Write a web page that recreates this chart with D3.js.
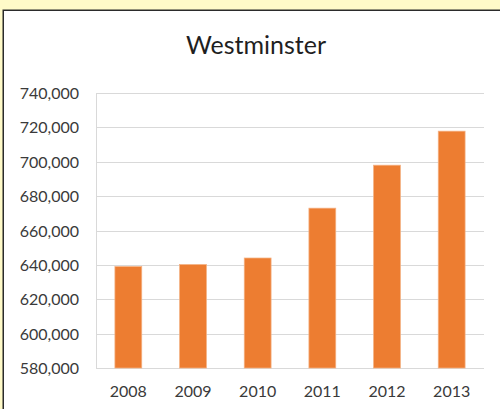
<!DOCTYPE html>
<html>
<head>
<meta charset="utf-8">
<script src="https://cdn.jsdelivr.net/npm/d3@7"></script>
<style>
  html, body { margin: 0; padding: 0; background: #fffac8; }
  svg { display: block; }
  .tick text { font-family: Lato, "Open Sans", sans-serif; font-size: 16px; fill: #3a3a3a; }
</style>
</head>
<body>
<svg width="500" height="409"></svg>
<script>
// Chart data.
var years = ["2008", "2009", "2010", "2011", "2012", "2013"];
var population = [639000, 640200, 644000, 673000, 698000, 717800];
var yTicks = [580000, 600000, 620000, 640000, 660000, 680000, 700000, 720000, 740000];
var title = "Westminster";

var width = 500, height = 409;
var margin = { top: 93, right: 16, bottom: 41, left: 96 };

var svg = d3.select("svg");

// Yellow page behind, white chart box with a dark frame.
svg.append("rect")
  .attr("width", width).attr("height", height)
  .attr("fill", "#fffac8");
svg.append("rect")
  .attr("x", 3.25).attr("y", 10.25)
  .attr("width", width).attr("height", height)
  .attr("fill", "#ffffff")
  .attr("stroke", "#2b2b2b")
  .attr("stroke-width", 1.5);

var x = d3.scaleBand()
  .domain(years)
  .range([margin.left, width - margin.right])
  .paddingInner(0.585)
  .paddingOuter(0.2925);

var y = d3.scaleLinear()
  .domain([580000, 740000])
  .range([height - margin.bottom, margin.top]);

// Gridlines.
svg.append("g").selectAll("line")
  .data(yTicks)
  .enter().append("line")
    .attr("x1", margin.left)
    .attr("x2", width - margin.right)
    .attr("y1", function(d) { return Math.round(y(d)) + 0.5; })
    .attr("y2", function(d) { return Math.round(y(d)) + 0.5; })
    .attr("stroke", "#d9d9d9")
    .attr("stroke-width", 1);

// Left axis line.
svg.append("line")
  .attr("x1", margin.left + 0.5).attr("x2", margin.left + 0.5)
  .attr("y1", y(740000)).attr("y2", y(580000))
  .attr("stroke", "#d9d9d9");

// Bars.
svg.append("g").selectAll("rect")
  .data(population)
  .enter().append("rect")
    .attr("x", function(d, i) { return x(years[i]); })
    .attr("width", x.bandwidth())
    .attr("y", function(d) { return y(d); })
    .attr("height", function(d) { return y(580000) - y(d); })
    .attr("fill", "#ed7d31")
    .attr("stroke", "#f4b183")
    .attr("stroke-width", 0.75);

// Axes, labels only.
var yAxis = svg.append("g")
  .attr("transform", "translate(" + (margin.left - 17) + ",0)")
  .call(d3.axisLeft(y).tickValues(yTicks).tickSize(0).tickPadding(0).tickFormat(d3.format(",")));
yAxis.select(".domain").remove();
yAxis.selectAll("text").attr("dy", "0.35em");

var xAxis = svg.append("g")
  .attr("transform", "translate(0," + (height - margin.bottom) + ")")
  .call(d3.axisBottom(x).tickSize(0).tickPadding(18));
xAxis.select(".domain").remove();

svg.append("text")
  .attr("x", 256)
  .attr("y", 54)
  .attr("text-anchor", "middle")
  .attr("font-family", "Lato, 'Open Sans', sans-serif")
  .attr("font-size", 25)
  .attr("fill", "#1f1f1f")
  .text(title);
</script>
</body>
</html>
